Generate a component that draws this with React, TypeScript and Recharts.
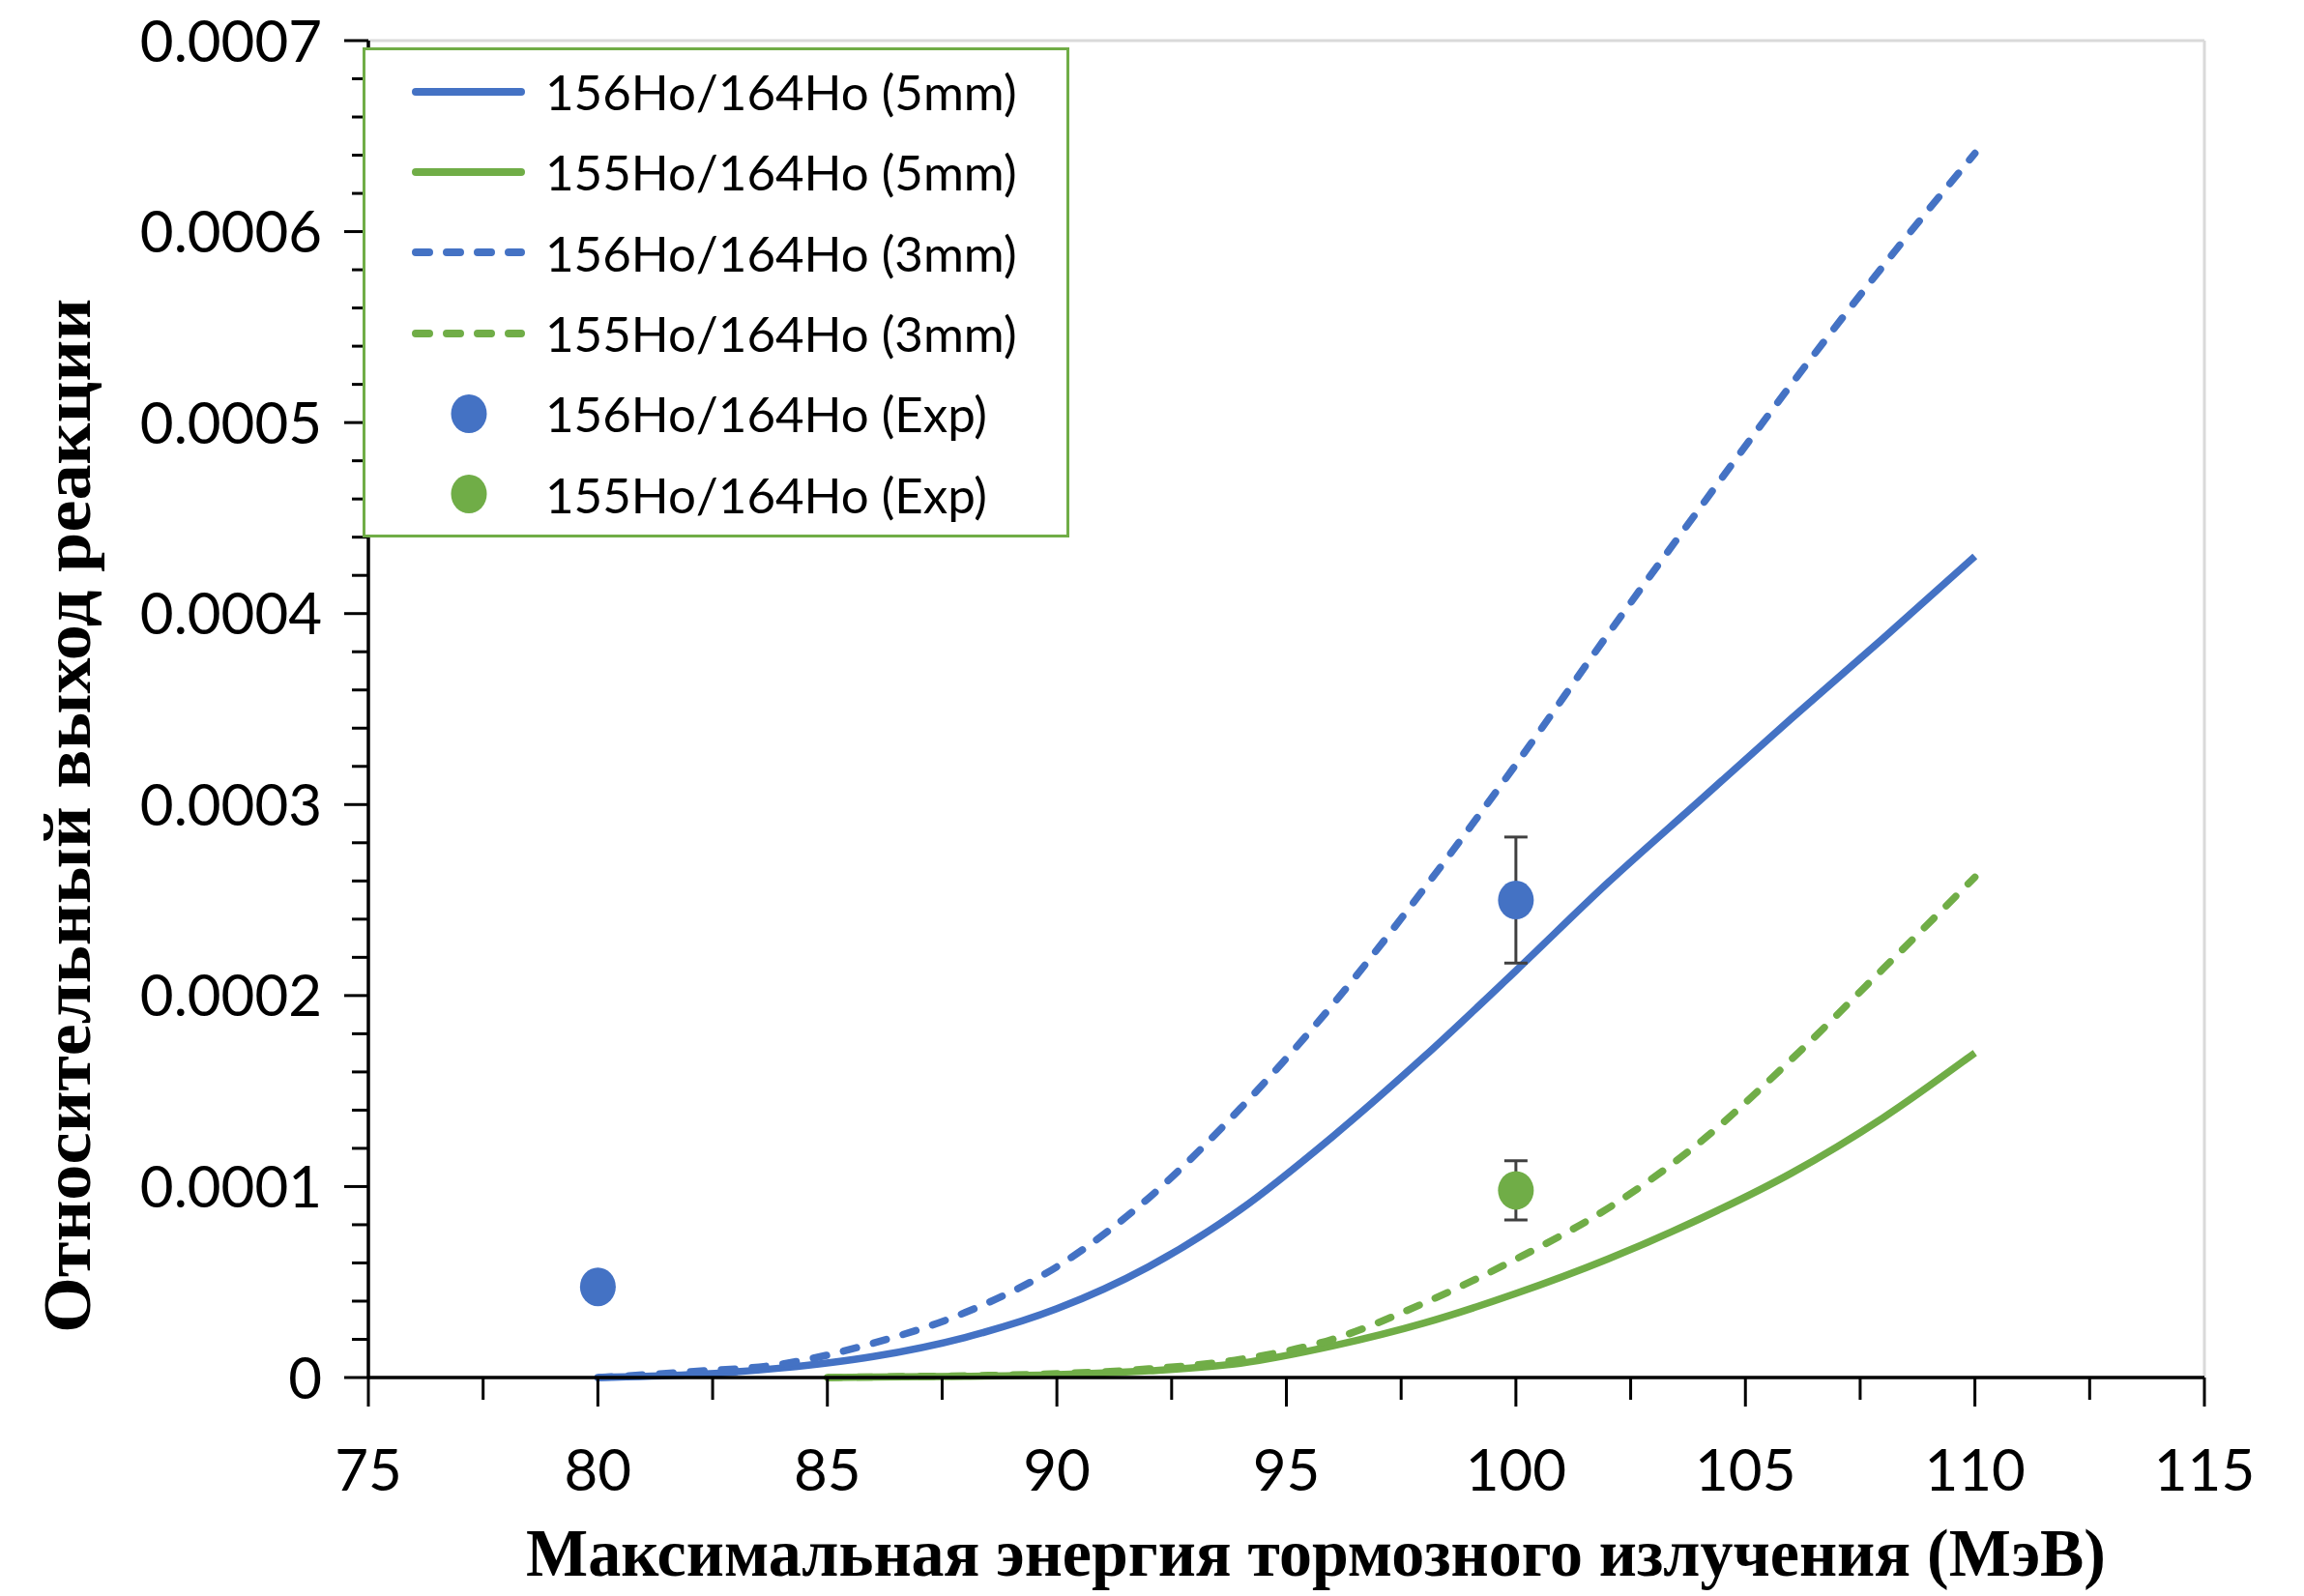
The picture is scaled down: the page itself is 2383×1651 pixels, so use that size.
import {
  ComposedChart,
  Line,
  Scatter,
  ErrorBar,
  XAxis,
  YAxis,
  Legend,
  Label,
  ReferenceLine,
} from "recharts";

const BLUE = "#4472C4";
const GREEN = "#70AD47";

// calculated yields, 156Ho/164Ho
const energy156 = [80, 82, 84, 86, 88, 90, 92, 94, 96, 98, 100, 102, 104, 106, 108, 110];
const yield156_5mm = [
  0, 0.0000015, 0.000005, 0.000011, 0.000021, 0.000036, 0.000058, 0.000088, 0.000126, 0.000168,
  0.000213, 0.000259, 0.000302, 0.000345, 0.000387, 0.00043,
];
const yield156_3mm = [
  0, 0.000003, 0.000007, 0.000018, 0.000034, 0.000058, 0.000094, 0.000141, 0.000195, 0.000256,
  0.000321, 0.000389, 0.000455, 0.00052, 0.000582, 0.000641,
];

// calculated yields, 155Ho/164Ho
const energy155 = [85, 86, 88, 90, 92, 94, 96, 98, 100, 102, 104, 106, 108, 110];
const yield155_5mm = [
  0, 0.0000002, 0.0000006, 0.0000015, 0.0000035, 0.0000075, 0.0000165, 0.0000285, 0.000044,
  0.000062, 0.000083, 0.000107, 0.000136, 0.00017,
];
const yield155_3mm = [
  0, 0.0000003, 0.0000009, 0.000002, 0.0000045, 0.0000095, 0.00002, 0.000039, 0.000062,
  0.0000885, 0.000123, 0.0001665, 0.000214, 0.000262,
];

// experiment
const expEnergy156 = [80, 100];
const expYield156 = [0.0000475, 0.00025];
const expError156 = [null, 0.000033];
const expEnergy155 = [100];
const expYield155 = [0.000098];
const expError155 = [0.0000155];

const xTicks = [75, 77.5, 80, 82.5, 85, 87.5, 90, 92.5, 95, 97.5, 100, 102.5, 105, 107.5, 110, 112.5, 115];
const yMajorTicks = [0, 0.0001, 0.0002, 0.0003, 0.0004, 0.0005, 0.0006, 0.0007];

const seriesLabels = [
  "156Ho/164Ho (5mm)",
  "155Ho/164Ho (5mm)",
  "156Ho/164Ho (3mm)",
  "155Ho/164Ho (3mm)",
  "156Ho/164Ho (Exp)",
  "155Ho/164Ho (Exp)",
];

const toPoints = (xs: number[], ys: number[], errs?: (number | null)[]) =>
  xs.map((x, i) => ({ x, y: ys[i], err: errs ? errs[i] : undefined }));

const line156_5 = toPoints(energy156, yield156_5mm);
const line156_3 = toPoints(energy156, yield156_3mm);
const line155_5 = toPoints(energy155, yield155_5mm);
const line155_3 = toPoints(energy155, yield155_3mm);
const exp156 = toPoints(expEnergy156, expYield156, expError156);
const exp155 = toPoints(expEnergy155, expYield155, expError155);

// 4 minor ticks between labelled ones
const yTicks = yMajorTicks.flatMap((v, i) =>
  i === yMajorTicks.length - 1
    ? [v]
    : [0, 1, 2, 3, 4].map((k) => v + (k * (yMajorTicks[i + 1] - v)) / 5)
);

const TICK_FONT = "Lato, 'Open Sans', sans-serif";
const TITLE_FONT = "'Liberation Serif', 'Times New Roman', serif";
const DASH = "14 18";

const legendItems = [
  { label: seriesLabels[0], color: BLUE, kind: "solid" },
  { label: seriesLabels[1], color: GREEN, kind: "solid" },
  { label: seriesLabels[2], color: BLUE, kind: "dash" },
  { label: seriesLabels[3], color: GREEN, kind: "dash" },
  { label: seriesLabels[4], color: BLUE, kind: "dot" },
  { label: seriesLabels[5], color: GREEN, kind: "dot" },
];

const XTick = ({ x, y, payload, index }: any) => {
  const major = index % 2 === 0;
  return (
    <g>
      <line x1={x} x2={x} y1={y} y2={y + (major ? 30 : 23)} stroke="#000" strokeWidth={3} />
      {major && (
        <text x={x} y={y + 117} textAnchor="middle" fontFamily={TICK_FONT} fontSize={60} fill="#000">
          {payload.value}
        </text>
      )}
    </g>
  );
};

const YTick = ({ x, y, payload, index }: any) => {
  const major = index % 5 === 0;
  const v = payload.value;
  return (
    <g>
      <line x1={x - (major ? 25 : 17)} x2={x} y1={y} y2={y} stroke="#000" strokeWidth={3} />
      {major && (
        <text x={x - 48} y={y} dy="0.36em" textAnchor="end" fontFamily={TICK_FONT} fontSize={60} fill="#000">
          {v === 0 ? "0" : v.toFixed(4)}
        </text>
      )}
    </g>
  );
};

const renderLegend = () => (
  <div
    style={{
      boxSizing: "border-box",
      width: 731,
      height: 507,
      border: `3px solid ${GREEN}`,
      background: "#fff",
      paddingTop: 1,
    }}
  >
    {legendItems.map((item) => (
      <div key={item.label} style={{ height: 83.3, display: "flex", alignItems: "center" }}>
        <svg width={186} height={40} style={{ display: "block" }}>
          {item.kind === "dot" ? (
            <ellipse cx={107} cy={20} rx={18.5} ry={20} fill={item.color} />
          ) : (
            <line
              x1={52}
              x2={161}
              y1={20}
              y2={20}
              stroke={item.color}
              strokeWidth={8}
              strokeLinecap="round"
              strokeDasharray={item.kind === "dash" ? DASH : undefined}
            />
          )}
        </svg>
        <span style={{ fontFamily: TICK_FONT, fontSize: 51, lineHeight: 1, color: "#000" }}>
          {item.label}
        </span>
      </div>
    ))}
  </div>
);

const dotShape = (color: string) => (props: any) =>
  <ellipse cx={props.cx} cy={props.cy} rx={18.5} ry={20} fill={color} />;

export default function App() {
  return (
    <div style={{ position: "absolute", left: 0, top: 0, width: 2383, height: 1651, background: "#fff" }}>
      <ComposedChart width={2383} height={1651} margin={{ top: 42, right: 103, bottom: 0, left: 0 }}>
        <XAxis
          type="number"
          dataKey="x"
          domain={[75, 115]}
          ticks={xTicks}
          interval={0}
          tickSize={0}
          tickMargin={0}
          tickLine={false}
          tick={(p: any) => <XTick {...p} />}
          axisLine={{ stroke: "#000", strokeWidth: 3.5 }}
          height={226}
        >
          <Label
            content={() => (
              <text
                x={1361}
                y={1630}
                textAnchor="middle"
                fontFamily={TITLE_FONT}
                fontWeight="bold"
                fontSize={70}
                textLength={1634}
                lengthAdjust="spacingAndGlyphs"
                fill="#000"
              >
                Максимальная энергия тормозного излучения (МэВ)
              </text>
            )}
          />
        </XAxis>
        <YAxis
          type="number"
          domain={[0, 0.0007]}
          ticks={yTicks}
          interval={0}
          tickSize={0}
          tickMargin={0}
          tickLine={false}
          tick={(p: any) => <YTick {...p} />}
          axisLine={{ stroke: "#000", strokeWidth: 3.5 }}
          width={381}
        >
          <Label
            content={() => (
              <text
                transform="translate(93, 844) rotate(-90)"
                textAnchor="middle"
                fontFamily={TITLE_FONT}
                fontWeight="bold"
                fontSize={70}
                textLength={1070}
                lengthAdjust="spacingAndGlyphs"
                fill="#000"
              >
                Относительный выход реакции
              </text>
            )}
          />
        </YAxis>

        <ReferenceLine y={0.0007} stroke="#d9d9d9" strokeWidth={3} ifOverflow="visible" />
        <ReferenceLine x={115} stroke="#d9d9d9" strokeWidth={3} ifOverflow="visible" />

        <Line data={line156_5} dataKey="y" type="monotone" stroke={BLUE} strokeWidth={7.5} dot={false} isAnimationActive={false} />
        <Line data={line155_5} dataKey="y" type="monotone" stroke={GREEN} strokeWidth={7.5} dot={false} isAnimationActive={false} />
        <Line
          data={line156_3}
          dataKey="y"
          type="monotone"
          stroke={BLUE}
          strokeWidth={7.5}
          strokeDasharray={DASH}
          strokeLinecap="round"
          dot={false}
          isAnimationActive={false}
        />
        <Line
          data={line155_3}
          dataKey="y"
          type="monotone"
          stroke={GREEN}
          strokeWidth={7.5}
          strokeDasharray={DASH}
          strokeLinecap="round"
          dot={false}
          isAnimationActive={false}
        />

        <Scatter data={exp156} dataKey="y" fill={BLUE} shape={dotShape(BLUE)} isAnimationActive={false}>
          <ErrorBar dataKey="err" direction="y" width={12} stroke="#404040" strokeWidth={3} />
        </Scatter>
        <Scatter data={exp155} dataKey="y" fill={GREEN} shape={dotShape(GREEN)} isAnimationActive={false}>
          <ErrorBar dataKey="err" direction="y" width={12} stroke="#404040" strokeWidth={3} />
        </Scatter>

        <Legend
          layout="horizontal"
          verticalAlign="middle"
          align="center"
          content={renderLegend}
          wrapperStyle={{ left: 375, top: 49, width: 731, height: 507 }}
        />
      </ComposedChart>
    </div>
  );
}
